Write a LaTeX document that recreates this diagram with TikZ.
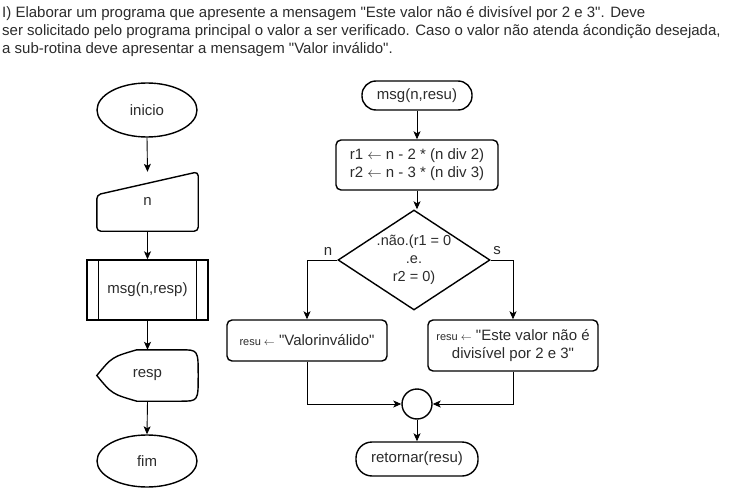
\documentclass[tikz,border=0pt]{standalone}
\usepackage{fontspec}
\setmainfont{Liberation Sans}[Ligatures=TeXOff]
\usepackage{tikz}
\usetikzlibrary{arrows.meta,positioning,shapes.geometric,calc}
\definecolor{traco}{HTML}{000000}
\definecolor{texto}{HTML}{2B2B2B}
\newcommand{\atrib}{{\fontsize{11}{13}\selectfont resu $\leftarrow$}}
\tikzset{
  forma/.style={draw=traco, line width=1.4pt, text=texto},
  termbox/.style={forma, rounded corners=14pt, inner sep=2pt},
  procbox/.style={forma, rounded corners=5pt, align=center, inner sep=2pt},
  elipse/.style={forma, ellipse, inner sep=0pt},
  decbox/.style={forma, diamond, shape aspect=1.52, inner sep=0pt, align=center,
    font=\fontsize{14.5}{18}\selectfont},
  vazio/.style={inner sep=0pt, text=texto},
  flow/.style={-{Stealth[length=8pt,width=7pt,inset=2pt]}, draw=traco, line width=0.9pt},
  rotulo/.style={text=texto, font=\fontsize{15}{17}\selectfont, inner sep=0pt},
}

\begin{document}
\begin{tikzpicture}[x=1pt, y=-1pt, font=\fontsize{15}{18}\selectfont]
  \useasboundingbox (0,0) rectangle (731,492);

  % enunciado
  \node[anchor=north west, inner sep=0pt, align=left, text=texto, font=\fontsize{15}{17.8}\selectfont] (enunciado) at (2,6.5)
    {I) Elaborar um programa que apresente a mensagem "Este valor não é divisível por 2 e 3". Deve\\
     ser solicitado pelo programa principal o valor a ser verificado. Caso o valor não atenda ácondição desejada,\\
     a sub-rotina deve apresentar a mensagem "Valor inválido".};

  % programa principal
  \node[elipse, minimum width=100pt, minimum height=54pt] (inicio) at (147,110) {inicio};
  \node[vazio, minimum width=101pt, minimum height=59pt] (lerN) at (147.5,201.5) {n};
  \draw[forma, rounded corners=4pt] (lerN.south west) -- ($(lerN.north west)+(0,23)$)
    -- (lerN.north east) -- (lerN.south east) -- cycle;
  \node[forma, minimum width=121pt, minimum height=60pt, inner sep=0pt] (sub) at (147.5,290) {msg(n,resp)};
  \draw[forma] ($(sub.north west)+(12,0)$) -- ($(sub.south west)+(12,0)$);
  \draw[forma] ($(sub.north east)+(-12,0)$) -- ($(sub.south east)+(-12,0)$);
  \node[vazio, minimum width=101pt, minimum height=51pt] (exibe) at (147.5,375.5) {resp};
  \draw[forma] (exibe.west) .. controls (112,357) .. ($(exibe.north west)+(40,0)$)
    -- ($(exibe.north east)+(-18,0)$) .. controls (exibe.north east) .. (exibe.east)
    .. controls (exibe.south east) .. ($(exibe.south east)+(-18,0)$)
    -- ($(exibe.south west)+(40,0)$) .. controls (112,394) .. (exibe.west) -- cycle;
  \node[elipse, minimum width=100pt, minimum height=52pt] (fim) at (147,461) {fim};

  \draw[flow] (inicio.south) -- (lerN.north);
  \draw[flow] (lerN.south) -- (sub.north);
  \draw[flow] (sub.south) -- (exibe.north);
  \draw[flow] (exibe.south) -- (fim.north);

  % sub-rotina
  \node[termbox, minimum width=110pt, minimum height=29pt] (sub2) at (417,95.5) {msg(n,resu)};
  \node[procbox, minimum width=162pt, minimum height=50pt] (calc) at (417,165)
    {r1 $\leftarrow$ n - 2 * (n div 2)\\r2 $\leftarrow$ n - 3 * (n div 3)};
  \node[decbox, minimum width=152pt, minimum height=100pt] (dec) at (414,260)
    {.não.(r1 = 0\\.e.\\r2 = 0)};
  \node[procbox, minimum width=160pt, minimum height=41pt] (valinv) at (307,340.5)
    {\atrib{} "Valorinválido"};
  \node[procbox, minimum width=170pt, minimum height=51pt] (msgbox) at (513,345.5)
    {\atrib{} "Este valor não é\\divisível por 2 e 3"};
  \node[forma, circle, minimum size=30pt, inner sep=0pt] (junc) at (417,404) {};
  \node[termbox, minimum width=122pt, minimum height=34pt, rounded corners=16pt] (ret) at (417,459) {retornar(resu)};

  \draw[flow] (sub2.south) -- (calc.north);
  \draw[flow] (calc.south) -- (calc.south |- dec.north);
  \draw[flow] (dec.west) -| (valinv.north);
  \draw[flow] (dec.east) -| (msgbox.north);
  \node[rotulo] (rotN) at (328,251) {n};
  \node[rotulo] (rotS) at (497,251) {s};
  \draw[flow] (valinv.south) |- (junc.west);
  \draw[flow] (msgbox.south) |- (junc.east);
  \draw[flow] (junc.south) -- (ret.north);
\end{tikzpicture}
\end{document}
